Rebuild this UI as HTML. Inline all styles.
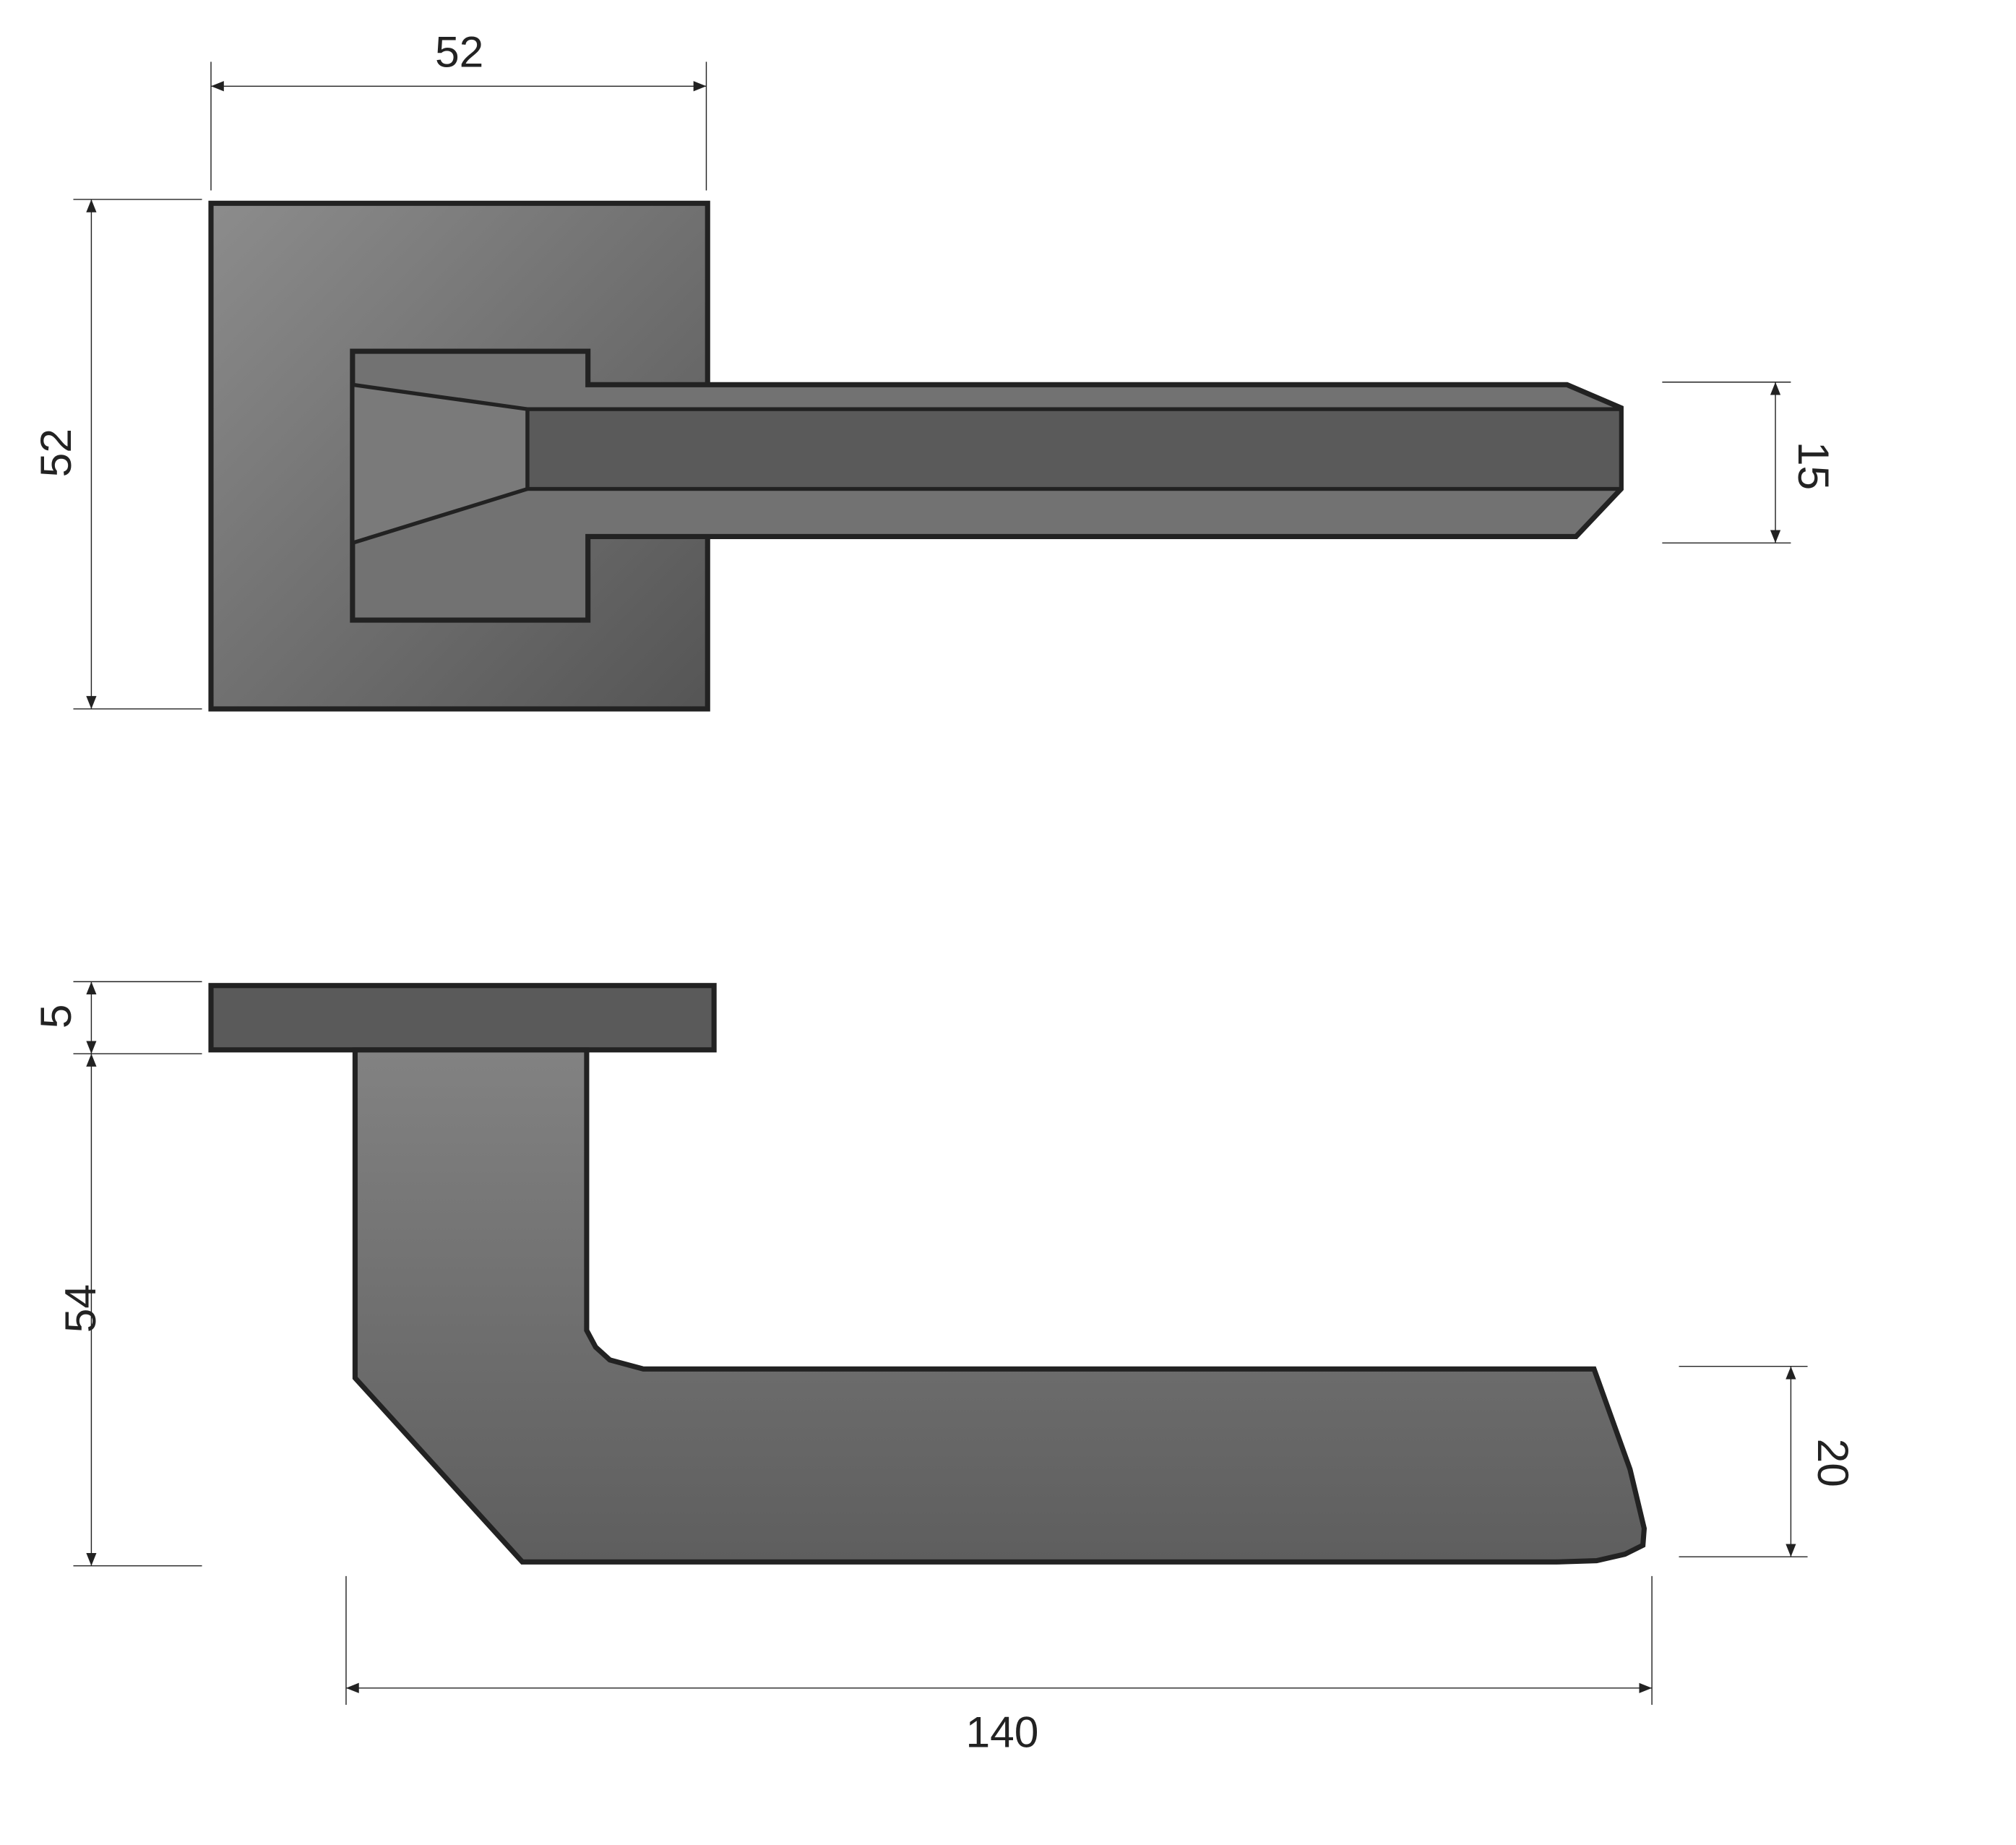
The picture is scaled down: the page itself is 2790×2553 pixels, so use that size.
<!DOCTYPE html>
<html><head><meta charset="utf-8"><style>
html,body{margin:0;padding:0;background:#fff;}
svg{display:block;}
text{font-family:"Liberation Sans",sans-serif;font-size:34px;fill:#222;}
</style></head><body>
<svg width="2790" height="2553" viewBox="0 0 1567 1434" preserveAspectRatio="none" xmlns="http://www.w3.org/2000/svg">
<defs>
<linearGradient id="rose" x1="0" y1="0" x2="1" y2="1">
<stop offset="0" stop-color="#8c8c8c"/><stop offset="1" stop-color="#555"/>
</linearGradient>
<linearGradient id="lev" x1="0" y1="0" x2="0" y2="1">
<stop offset="0" stop-color="#828282"/><stop offset="1" stop-color="#5e5e5e"/>
</linearGradient>
<marker id="a" viewBox="0 0 10 10" refX="10" refY="5" markerWidth="10" markerHeight="10" orient="auto-start-reverse" markerUnits="userSpaceOnUse">
<path d="M0,1 L10,5 L0,9 z" fill="#222"/></marker>
</defs>
<g stroke="#222" stroke-width="0.8" fill="none">
<line x1="164" y1="48" x2="164" y2="148"/><line x1="549" y1="48" x2="549" y2="148"/>
<line x1="164" y1="67" x2="549" y2="67" marker-start="url(#a)" marker-end="url(#a)"/>
<line x1="57" y1="155" x2="157" y2="155"/><line x1="57" y1="551" x2="157" y2="551"/>
<line x1="71" y1="155" x2="71" y2="551" marker-start="url(#a)" marker-end="url(#a)"/>
<line x1="1292" y1="297" x2="1392" y2="297"/><line x1="1292" y1="422" x2="1392" y2="422"/>
<line x1="1380" y1="297" x2="1380" y2="422" marker-start="url(#a)" marker-end="url(#a)"/>
<line x1="57" y1="763" x2="157" y2="763"/><line x1="57" y1="819" x2="157" y2="819"/><line x1="57" y1="1217" x2="157" y2="1217"/>
<line x1="71" y1="763" x2="71" y2="819" marker-start="url(#a)" marker-end="url(#a)"/>
<line x1="71" y1="819" x2="71" y2="1217" marker-start="url(#a)" marker-end="url(#a)"/>
<line x1="1305" y1="1062" x2="1405" y2="1062"/><line x1="1305" y1="1210" x2="1405" y2="1210"/>
<line x1="1392" y1="1062" x2="1392" y2="1210" marker-start="url(#a)" marker-end="url(#a)"/>
<line x1="269" y1="1225" x2="269" y2="1325"/><line x1="1284" y1="1225" x2="1284" y2="1325"/>
<line x1="269" y1="1312" x2="1284" y2="1312" marker-start="url(#a)" marker-end="url(#a)"/>
</g>
<g stroke="#222" stroke-width="4" stroke-linejoin="miter">
<rect x="164" y="158" width="386" height="393" fill="url(#rose)"/>
<path d="M274,273 L457,273 L457,299 L1218,299 L1260,317 L1260,380 L1225,417 L457,417 L457,482 L274,482 Z" fill="#727272"/>
<path d="M274,299 L410,318 L410,380 L274,422 Z" fill="#7a7a7a" stroke-width="3"/>
<rect x="410" y="318" width="850" height="62" fill="#5a5a5a" stroke-width="3"/>
<rect x="164" y="766" width="391" height="50" fill="#5a5a5a"/>
<path d="M276,816 L456,816 L456,1034 L463,1047 L474,1057 L500,1064 L1239,1064 L1267,1142 L1278,1188 L1277,1201 L1263,1208 L1241,1213 L1210,1214 L406,1214 L276,1071 Z" fill="url(#lev)"/>
</g>
<text x="357" y="52" text-anchor="middle">52</text>
<text x="779" y="1358" text-anchor="middle">140</text>
<text transform="translate(55,352) rotate(-90)" text-anchor="middle">52</text>
<text transform="translate(55,790) rotate(-90)" text-anchor="middle">5</text>
<text transform="translate(74,1017) rotate(-90)" text-anchor="middle">54</text>
<text transform="translate(1398,362) rotate(90)" text-anchor="middle">15</text>
<text transform="translate(1413,1137) rotate(90)" text-anchor="middle">20</text>
</svg>
</body></html>
